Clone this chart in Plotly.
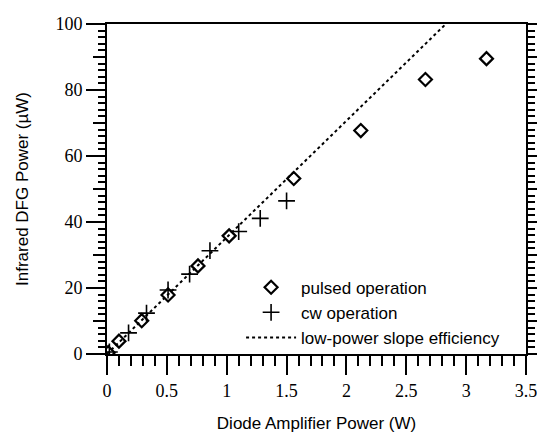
import plotly.graph_objects as go

## Pulsed operation (diamonds)
pulsed_power = [0.01, 0.10, 0.29, 0.51, 0.76, 1.02, 1.56, 2.12, 2.66, 3.17]
pulsed_dfg = [0.4, 3.9, 10.1, 17.9, 26.7, 35.8, 53.2, 67.7, 83.2, 89.5]

## cw operation (crosses)
cw_power = [0.02, 0.18, 0.33, 0.51, 0.69, 0.86, 1.10, 1.28, 1.50]
cw_dfg = [0.6, 6.4, 12.4, 19.4, 24.2, 31.3, 37.1, 41.1, 46.4]

## Low-power slope efficiency line end points
slope_power = [0, 2.83]
slope_dfg = [0, 100]

x_ticks = [0, 0.5, 1, 1.5, 2, 2.5, 3, 3.5]
x_labels = ['0', '0.5', '1', '1.5', '2', '2.5', '3', '3.5']
y_ticks = [0, 20, 40, 60, 80, 100]
y_mid_ticks = [10, 30, 50, 70, 90]

tick_font = dict(family='Liberation Serif, Times New Roman, serif', size=18, color='black')
title_font = dict(family='Liberation Sans, Arial, sans-serif', size=17, color='black')

fig = go.Figure()

fig.add_trace(go.Scatter(
    x=slope_power, y=slope_dfg, mode='lines',
    line=dict(color='black', width=2, dash='dot'),
    name='low-power slope efficiency', legendrank=3
))
fig.add_trace(go.Scatter(
    x=pulsed_power, y=pulsed_dfg, mode='markers',
    marker=dict(symbol='diamond-open', size=10, color='black', line=dict(width=2.2, color='black')),
    name='pulsed operation', legendrank=1
))
fig.add_trace(go.Scatter(
    x=cw_power, y=cw_dfg, mode='markers',
    marker=dict(symbol='cross-thin-open', size=12, color='black', line=dict(width=1.6, color='black')),
    name='cw operation', legendrank=2
))
## invisible trace so the medium y ticks get drawn
fig.add_trace(go.Scatter(x=[None], y=[None], yaxis='y2', showlegend=False))

## the page body adds an 8px offset, so the figure is 8px smaller
fig.update_layout(
    width=537, height=427,
    margin=dict(l=99, r=19, t=16, b=81),
    plot_bgcolor='white', paper_bgcolor='white',
    showlegend=True,
    legend=dict(
        x=0.32, y=-0.005, xanchor='left', yanchor='bottom',
        bgcolor='rgba(0,0,0,0)', traceorder='normal',
        font=dict(family='Liberation Sans, Arial, sans-serif', size=17, color='black'),
        itemwidth=50, tracegroupgap=0
    ),
    xaxis=dict(
        range=[0, 3.5], tickvals=x_ticks, ticktext=x_labels, automargin=False,
        ticks='outside', ticklen=19, tickwidth=2, tickcolor='black',
        minor=dict(dtick=0.1, ticks='outside', ticklen=10, tickwidth=1.5, tickcolor='black'),
        showline=True, linewidth=2, linecolor='black', mirror=True,
        showgrid=False, zeroline=False, tickfont=tick_font,
        title=dict(text='Diode Amplifier Power (W)', font=title_font, standoff=18)
    ),
    yaxis=dict(
        range=[0, 100], tickvals=y_ticks, automargin=False,
        ticks='outside', ticklen=19, tickwidth=2, tickcolor='black',
        minor=dict(dtick=2, ticks='outside', ticklen=7, tickwidth=1.5, tickcolor='black'),
        showline=True, linewidth=2, linecolor='black', mirror='ticks',
        showgrid=False, zeroline=False, tickfont=tick_font,
        title=dict(text='Infrared DFG Power (\u00b5W)', font=title_font, standoff=22)
    ),
    yaxis2=dict(
        range=[0, 100], overlaying='y', side='left', tickvals=y_mid_ticks, automargin=False,
        ticks='outside', ticklen=13, tickwidth=1.5, tickcolor='black',
        showticklabels=False, showgrid=False, zeroline=False,
        showline=False, mirror='ticks'
    )
)

fig.write_html("out.html")
